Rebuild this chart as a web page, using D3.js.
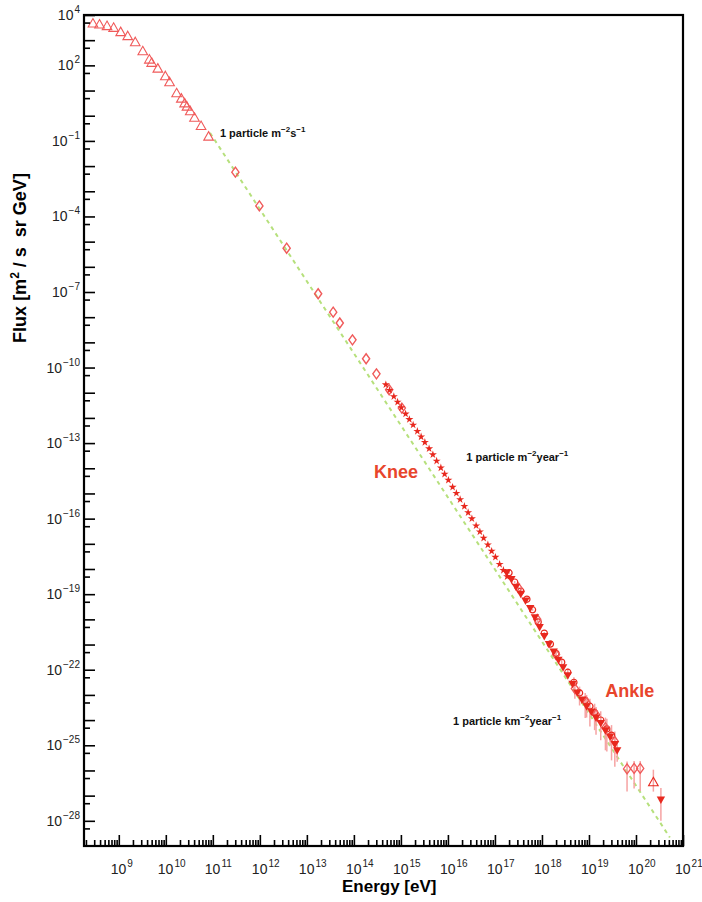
<!DOCTYPE html>
<html><head><meta charset="utf-8">
<script src="https://cdn.jsdelivr.net/npm/d3@7"></script>
<style>
body{margin:0;background:#fff}
svg{display:block}
text{font-family:"Liberation Sans",Arial,Helvetica,sans-serif}
</style>
</head><body>
<svg id="chart" width="702" height="902"></svg>
<script>
// ---- data (log10 of energy in eV, log10 of flux) ----
const triE = [8.45,8.59,8.75,8.89,9.04,9.19,9.35,9.51,9.65,9.70,9.83,9.99,10.08,10.23,10.33,10.40,10.45,10.52,10.61,10.75,10.91];
const triF = [3.64,3.60,3.54,3.47,3.30,3.14,2.90,2.54,2.21,2.08,1.85,1.55,1.31,0.87,0.66,0.47,0.34,0.16,-0.10,-0.43,-0.85];

const diaE = [11.48,11.99,12.57,13.24,13.56,13.70,13.97,14.26,14.48,14.75,15.02];
const diaF = [-2.24,-3.58,-5.26,-7.07,-7.80,-8.23,-8.90,-9.65,-10.25,-10.88,-11.61];

const starE = [14.68,14.76,14.85,14.93,15.01,15.10,15.18,15.26,15.35,15.43,15.51,15.60,15.68,15.76,15.85,15.93,16.01,16.10,16.18,16.26,16.35,16.43,16.51,16.60,16.68,16.76,16.85,16.93,17.01,17.10,17.18,17.26];
const starF = [-10.68,-10.90,-11.15,-11.37,-11.59,-11.84,-12.06,-12.28,-12.53,-12.75,-12.97,-13.22,-13.46,-13.71,-13.98,-14.23,-14.47,-14.75,-14.99,-15.24,-15.51,-15.76,-16.00,-16.28,-16.52,-16.77,-17.04,-17.29,-17.53,-17.81,-18.05,-18.30];

const downE = [17.25,17.35,17.45,17.55,17.65,17.75,17.85,17.95,18.05,18.15,18.25,18.35,18.45,18.55,18.65,18.75,18.85,18.95,19.05,19.15,19.25,19.35,19.45,19.55,19.60,20.53];
const downF = [-18.14,-18.40,-18.70,-18.98,-19.25,-19.55,-19.92,-20.30,-20.66,-20.98,-21.28,-21.60,-21.90,-22.22,-22.56,-22.90,-23.18,-23.45,-23.66,-23.90,-24.12,-24.40,-24.65,-24.95,-25.20,-27.15];
const downUp = [0.03,0.03,0.03,0.03,0.03,0.03,0.03,0.03,0.03,0.03,0.04,0.04,0.05,0.05,0.06,0.08,0.10,0.12,0.15,0.15,0.20,0.20,0.25,0.30,0.30,0.45];
const downDn = [0.03,0.03,0.03,0.03,0.03,0.03,0.03,0.03,0.03,0.03,0.04,0.04,0.05,0.05,0.06,0.08,0.10,0.12,0.15,0.20,0.25,0.30,0.35,0.40,0.45,0.85];

const circE = [17.30,17.42,17.55,17.68,17.80,17.92,18.05,18.18,18.30,18.42,18.55,18.68,18.80,18.92,19.02,19.12,19.25,19.38,19.48];
const circF = [-18.15,-18.52,-18.88,-19.20,-19.62,-20.10,-20.55,-20.98,-21.35,-21.70,-22.10,-22.50,-22.92,-23.22,-23.45,-23.70,-24.00,-24.35,-24.60];
const circUp = [0.04,0.04,0.04,0.04,0.04,0.05,0.05,0.06,0.08,0.10,0.15,0.20,0.25,0.30,0.30,0.35,0.35,0.40,0.40];
const circDn = [0.04,0.04,0.04,0.04,0.04,0.05,0.05,0.06,0.08,0.15,0.20,0.30,0.50,0.70,0.80,0.70,0.80,0.90,1.00];

const dia2E = [17.50,17.90,18.30,18.70,18.95,19.15,19.35,19.55,19.81,19.96,20.09];
const dia2F = [-18.75,-20.00,-21.40,-22.75,-23.30,-23.78,-24.30,-24.85,-25.94,-25.92,-25.92];
const dia2Up = [0.05,0.05,0.10,0.20,0.30,0.30,0.40,0.40,0.30,0.30,0.30];
const dia2Dn = [0.05,0.10,0.20,0.40,0.60,0.80,0.90,1.00,0.90,0.80,0.90];

const upE = [20.37];
const upF = [-26.49];
const upUp = [0.52];
const upDn = [0.35];

const refLineE = [10.94, 20.72];
const refLineF = [-0.68, -28.66];

const xMajorExp = [9,10,11,12,13,14,15,16,17,18,19,20,21];
const yLabelExp = [4,2,-1,-4,-7,-10,-13,-16,-19,-22,-25,-28];

const notes = [
  {t:"1 particle m", s1:"-2", m:"s", s2:"-1", e:11.15, f:-0.85},
  {t:"1 particle m", s1:"-2", m:"year", s2:"-1", e:16.39, f:-13.71},
  {t:"1 particle km", s1:"-2", m:"year", s2:"-1", e:16.11, f:-24.20}
];
const bigNotes = [
  {t:"Knee", e:14.43, f:-14.39},
  {t:"Ankle", e:19.345, f:-23.085}
];

// ---- drawing ----
const svg = d3.select("#chart");
const L = 84, R = 683, T = 15, B = 846;
const x = d3.scaleLog().domain([Math.pow(10,8.26), 1e21]).range([L, R]);
const y = d3.scaleLog().domain([1e-29, 1e4]).range([B, T]);
const P = v => Math.pow(10, v);

const red = "#e8281e", pinkRed = "#f05a5a", errCol = "#f6a3a3";

// reference line
svg.append("path")
  .attr("d", d3.line().x(d => x(P(d[0]))).y(d => y(P(d[1])))(refLineE.map((e,i)=>[e, refLineF[i]])))
  .attr("fill","none").attr("stroke","#b6e07c").attr("stroke-width",2)
  .attr("stroke-dasharray","4,4");

// error bars
function errs(E, F, U, D) {
  svg.append("g").selectAll("line").data(E.map((e,i)=>({e, f:F[i], u:U[i], d:D[i]})))
    .join("line")
    .attr("x1", d => x(P(d.e))).attr("x2", d => x(P(d.e)))
    .attr("y1", d => y(P(d.f + d.u))).attr("y2", d => y(P(d.f - d.d)))
    .attr("stroke", errCol).attr("stroke-width", 1.5);
}
errs(circE, circF, circUp, circDn);
errs(dia2E, dia2F, dia2Up, dia2Dn);
errs(downE, downF, downUp, downDn);
errs(upE, upF, upUp, upDn);

const triPath = "M0,-5.5L4.8,3L-4.8,3Z";
const downPath = "M0,4.5L4.2,-3L-4.2,-3Z";
const diaPath = "M0,-5L3.6,0L0,5L-3.6,0Z";

function pts(E, F, path, fill, stroke, sw) {
  svg.append("g").selectAll("path").data(E.map((e,i)=>[e, F[i]]))
    .join("path")
    .attr("d", path)
    .attr("transform", d => `translate(${x(P(d[0]))},${y(P(d[1]))})`)
    .attr("fill", fill).attr("stroke", stroke).attr("stroke-width", sw);
}
pts(triE, triF, triPath, "none", pinkRed, 1.1);
pts(diaE, diaF, diaPath, "none", pinkRed, 1.4);
pts(circE, circF, d3.symbol(d3.symbolCircle, 30)(), "none", red, 1.2);
pts(dia2E, dia2F, diaPath, "none", pinkRed, 1.3);
pts(upE, upF, triPath, "none", red, 1.1);
pts(starE, starF, d3.symbol(d3.symbolStar, 20)(), red, "none", 0);
pts(downE, downF, downPath, red, "none", 0);

// axes (inward ticks)
const xMinor = [];
for (let e = 8; e <= 20; e++) for (let m = 2; m <= 9; m++) { const v = m * Math.pow(10, e); if (v > x.domain()[0] && v < 1e21) xMinor.push(v); }
const yMinor = [];
for (let e = -29; e <= 3; e++) yMinor.push(5 * Math.pow(10, e));
const yMajor = d3.range(-28, 5).map(P);

function styleAxis(g){ g.select(".domain").remove(); g.selectAll(".tick line").attr("stroke","#000").attr("stroke-width",1.6); g.selectAll(".tick text").remove(); }
svg.append("g").attr("transform",`translate(0,${B})`).call(d3.axisBottom(x).tickValues(xMajorExp.map(P)).tickSize(-11)).call(styleAxis);
svg.append("g").attr("transform",`translate(0,${B})`).call(d3.axisBottom(x).tickValues(xMinor).tickSize(-6)).call(styleAxis);
svg.append("g").attr("transform",`translate(${L},0)`).call(d3.axisLeft(y).tickValues(yMajor).tickSize(-11)).call(styleAxis);
svg.append("g").attr("transform",`translate(${L},0)`).call(d3.axisLeft(y).tickValues(yMinor).tickSize(-6)).call(styleAxis);

// frame
svg.append("rect").attr("x",L).attr("y",T).attr("width",R-L).attr("height",B-T)
  .attr("fill","none").attr("stroke","#000").attr("stroke-width",2.2);

// tick labels
const minus = s => String(s).replace("-", "\u2212");
xMajorExp.forEach(e => {
  const t = svg.append("text").attr("x", x(P(e)) - 8).attr("y", 874).attr("font-size", 14).attr("fill","#222");
  t.append("tspan").text("10");
  t.append("tspan").attr("dy",-7).attr("dx",1).attr("font-size",10).text(minus(e));
});
yLabelExp.forEach(e => {
  const t = svg.append("text").attr("x", 80).attr("y", y(P(e)) + 5).attr("font-size", 14).attr("fill","#222").attr("text-anchor","end");
  t.append("tspan").text("10");
  t.append("tspan").attr("dy",-7).attr("dx",1).attr("font-size",10).text(minus(e));
});

// axis titles
svg.append("text").attr("x", 342).attr("y", 892).attr("font-size", 17).attr("font-weight","bold").text("Energy [eV]");
const yt = svg.append("text").attr("transform","translate(26,258) rotate(-90)").attr("text-anchor","middle")
  .attr("font-size",18).attr("font-weight","bold").style("white-space","pre");
yt.append("tspan").text("Flux [m");
yt.append("tspan").attr("dy",-7).attr("font-size",12).text("2");
yt.append("tspan").attr("dy",7).text(" / s  sr GeV]");

// annotations
notes.forEach(n => {
  const t = svg.append("text").attr("x", x(P(n.e))).attr("y", y(P(n.f))).attr("font-size", 11).attr("font-weight","bold").attr("fill","#111");
  t.append("tspan").text(n.t);
  t.append("tspan").attr("dy",-5).attr("font-size",8).text(minus(n.s1));
  t.append("tspan").attr("dy",5).text(n.m);
  t.append("tspan").attr("dy",-5).attr("font-size",8).text(minus(n.s2));
});
bigNotes.forEach(n => {
  svg.append("text").attr("x", x(P(n.e))).attr("y", y(P(n.f))).attr("font-size", 18).attr("font-weight","bold").attr("fill","#e8452c").text(n.t);
});
</script>
</body></html>
